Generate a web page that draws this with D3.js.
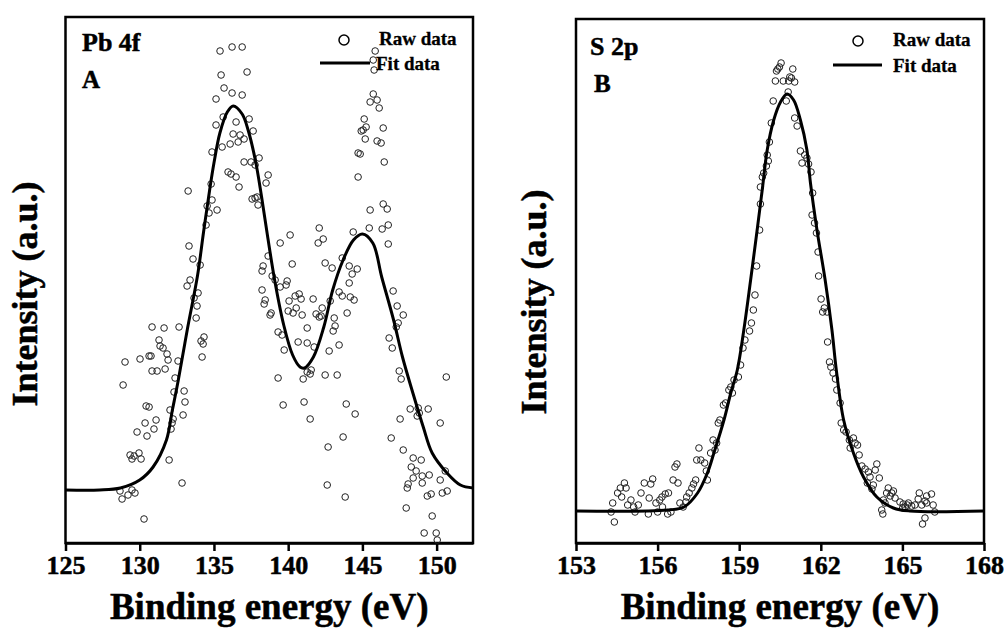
<!DOCTYPE html>
<meta charset="utf-8">

<!-- Load d3.js -->
<script src="https://d3js.org/d3.v7.min.js"></script>

<style>
  body { margin: 0; background: #fff; }
  svg text { font-family: "Liberation Serif", "Times New Roman", "DejaVu Serif", serif; font-weight: bold;
             stroke: #000; stroke-width: 0.5px; }
</style>

<!-- Create a div where the graph will take place -->
<div id="body"></div>

<script>
// ---- Panel A : Pb 4f ----
var pbTicks = [125, 130, 135, 140, 145, 150];

// raw data, binding energy (eV)
var pbRawEnergy = [
  135.41,136.22,136.90,135.48,137.23,135.68,136.22,136.90,135.14,145.86,
  145.73,145.79,145.73,145.52,145.99,146.13,145.12,145.05,144.92,145.25,
  146.40,145.19,145.99,146.26,144.85,144.71,146.47,144.71,135.62,135.14,
  136.49,137.37,137.64,136.29,136.76,136.09,136.63,137.03,135.55,134.87,
  137.03,137.50,138.04,137.77,135.95,136.15,136.49,138.65,138.51,136.69,
  133.26,134.81,137.77,134.54,134.87,134.67,135.21,134.47,137.57,137.91,
  137.97,133.32,133.59,134.07,133.39,133.19,133.93,133.66,133.86,133.80,
  130.83,131.64,132.65,131.30,131.37,131.57,131.84,134.13,134.33,134.27,
  134.20,129.01,130.02,130.63,130.76,131.91,132.58,130.83,131.17,131.71,
  142.09,142.36,142.02,140.13,139.46,145.52,146.40,146.67,145.46,146.33,
  146.74,144.38,146.74,138.65,140.27,138.31,138.24,138.92,139.12,139.46,
  139.86,139.93,138.24,138.45,138.38,138.85,138.78,140.47,140.74,140.87,
  140.06,141.68,140.00,140.33,140.54,140.94,142.49,142.96,143.64,144.11,
  144.65,144.31,144.11,143.43,143.64,142.83,144.18,144.44,142.29,141.88,
  142.09,142.22,143.10,143.16,143.03,143.97,141.28,139.32,139.59,140.67,
  141.28,141.75,139.73,143.43,142.76,147.07,147.34,147.75,147.41,147.28,
  146.80,147.01,147.48,150.65,139.32,142.49,143.30,141.48,141.01,141.55,
  141.28,128.88,132.38,132.31,132.99,133.05,130.43,130.63,132.04,132.25,
  132.18,132.11,132.92,131.10,130.96,130.36,129.82,130.49,129.35,129.62,
  129.95,129.48,130.09,131.98,132.85,128.67,128.81,129.21,129.68,129.48,
  130.29,139.66,141.07,141.48,143.91,144.51,143.70,142.69,142.63,143.84,
  147.61,148.22,148.76,149.43,148.83,148.69,147.54,150.24,146.94,147.75,
  148.42,148.96,148.29,148.62,148.42,148.08,148.02,149.03,149.50,149.03,
  150.24,150.58,149.37,149.63,150.38,150.71,147.95,149.70,149.16,149.97,
  150.04
];
// raw data, intensity (counts)
var pbRawCounts = [
  4920,4960,4960,4680,4710,4550,4500,4480,4440,4920,
  4830,4730,4490,4410,4430,4350,4240,4130,4120,4160,
  4150,4040,4020,4000,3890,3900,3810,3660,4260,4180,
  4210,4240,4120,4090,4080,3990,4010,4040,3960,3910,
  3810,3810,3850,3780,3710,3690,3660,3680,3600,3560,
  3520,3590,3450,3370,3430,3300,3330,3180,3440,3460,
  3380,2970,2840,2780,2630,2570,2500,2450,2370,2250,
  2160,2150,2160,2030,1970,1950,1890,2020,2060,1990,
  1860,1810,1840,1870,1870,1830,1820,1720,1720,1740,
  3150,3040,3000,3080,3000,3330,3390,3340,3150,3140,
  3180,3110,2990,2870,2790,2770,2720,2670,2630,2560,
  2580,2620,2530,2430,2390,2300,2280,2470,2490,2440,
  2420,2440,2320,2300,2350,2280,2800,2750,2850,2770,
  2740,2690,2600,2510,2470,2420,2460,2430,2350,2290,
  2260,2270,2250,2170,2120,2300,2150,2110,2080,2010,
  2000,1960,1930,1980,1920,2520,2370,2280,2200,2160,
  2050,1950,1720,1660,1650,1680,1680,1690,1640,1730,
  1710,1580,1650,1510,1520,1410,1370,1360,1330,1240,
  1200,1140,1280,1230,1140,1200,1110,1070,880,870,
  900,840,840,830,600,520,440,480,500,530,
  240,1380,1410,1240,1390,1290,1060,960,580,460,
  1640,1340,1350,1340,1300,1270,1240,1200,1050,930,
  850,830,760,720,650,590,550,670,680,600,
  630,720,470,490,500,520,350,270,100,100,
  30
];

// fitted envelope
var pbFitEnergy = [125.0,127.3,128.7,130.0,130.9,131.8,132.2,132.6,133.2,133.9,
  134.3,134.7,135.0,135.4,135.9,136.3,136.9,137.3,137.8,138.2,138.6,139.1,139.7,
  140.3,140.8,141.1,141.7,142.4,143.0,143.7,144.4,145.0,145.7,146.3,147.1,147.7,
  148.4,149.1,149.7,150.7,151.6,152.45];
var pbFitCounts = [530,530,550,630,760,1030,1330,1630,2130,2680,
  3110,3520,3800,4100,4310,4370,4290,4130,3820,3470,3080,2620,2180,
  1880,1760,1750,1860,2160,2530,2830,3030,3090,3000,2660,2230,1860,
  1500,1160,900,700,580,550];

// ---- Panel B : S 2p ----
var sTicks = [153, 156, 159, 162, 165, 168];

var sRawEnergy = [
  160.54,160.48,160.42,160.37,160.97,160.33,160.62,160.82,160.92,161.04,
  160.86,160.80,160.73,160.25,161.04,161.13,160.18,160.11,160.03,160.07,
  160.00,159.90,159.85,159.78,161.25,161.41,161.49,161.31,161.55,161.64,
  161.70,159.78,159.75,159.64,159.58,159.52,159.45,159.38,159.21,159.14,
  159.05,158.97,161.68,161.77,161.84,161.90,161.92,162.01,162.13,162.07,
  162.23,162.25,162.32,162.37,162.45,162.54,158.81,158.69,158.62,158.75,
  158.50,158.42,158.29,158.23,158.04,158.17,158.11,157.95,157.52,157.44,
  157.59,157.73,157.79,156.71,156.64,157.40,157.32,157.26,157.16,157.07,
  157.83,156.57,156.75,156.82,156.94,157.04,156.40,156.28,156.16,156.08,
  155.94,155.51,155.82,155.75,155.39,155.69,154.78,154.63,154.84,154.53,
  154.68,154.35,154.29,154.41,155.02,154.90,155.17,155.12,155.29,155.66,
  156.00,156.18,156.37,156.49,162.59,162.71,162.75,162.84,162.93,163.05,
  163.20,163.26,163.35,163.08,163.41,163.51,163.63,163.75,164.06,164.00,
  164.15,163.81,163.71,163.93,163.88,164.48,164.67,164.42,164.61,164.55,
  164.73,164.30,164.36,164.24,164.28,164.91,165.03,165.22,165.34,165.46,
  165.62,165.58,165.89,166.07,165.83,166.13,166.19,165.71,165.89,165.83,
  165.74,165.10,165.18,165.01
];
var sRawCounts = [
  4800,4760,4740,4720,4740,4620,4620,4620,4650,4610,
  4660,4510,4420,4420,4250,4170,4200,4010,3880,3820,
  3770,3700,3660,3560,3920,3880,3850,3800,3790,3710,
  3500,3390,3130,2770,2480,2330,2200,2120,2030,1950,
  1780,1660,3280,3200,3100,2910,2670,2440,2350,2310,
  2310,2010,1810,1760,1700,1640,1630,1560,1530,1500,
  1400,1380,1230,1200,1030,1000,930,900,950,830,
  830,800,720,790,760,630,590,550,500,460,
  630,630,600,400,360,410,500,490,460,430,
  400,600,640,590,500,450,600,550,550,500,
  460,400,310,210,430,380,310,360,380,290,
  310,360,290,310,1530,1400,1200,1130,1110,1030,
  1050,1000,980,950,880,770,740,710,790,730,
  650,660,600,580,540,550,520,500,500,470,
  450,430,400,330,290,410,390,400,370,380,
  500,440,470,490,420,380,310,380,400,250,
  190,360,380,350
];

var sFitEnergy = [153.0,156.37,156.97,157.47,157.83,158.07,158.44,158.69,158.93,
  159.17,159.42,159.66,159.86,160.03,160.27,160.52,160.76,161.00,161.25,161.49,
  161.62,161.86,162.16,162.41,162.57,162.84,163.20,163.57,164.06,164.67,165.28,168.0];
var sFitCounts = [320,330,360,500,700,900,1230,1500,1730,
  2130,2630,3130,3560,3930,4230,4410,4490,4430,4230,3930,
  3600,3130,2630,2130,1730,1230,900,660,460,350,320,320];

var fontFam = "Liberation Serif, Times New Roman, DejaVu Serif, serif";

// Append with SVG
var svg = d3.select("#body").append("svg")
    .attr("width", 1006)
    .attr("height", 629)
    .style("background", "#fff");

function drawPanel(p) {
  var x = d3.scaleLinear().domain(p.xDomain).range([p.left, p.right]);
  var y = d3.scaleLinear().domain(p.yDomain).range([p.bottom, p.top]);

  // frame
  svg.append("rect")
    .attr("x", p.left).attr("y", p.top)
    .attr("width", p.right - p.left).attr("height", p.bottom - p.top)
    .attr("fill", "none").attr("stroke", "#000").attr("stroke-width", 2.5);

  // X axis
  var ax = svg.append("g")
    .attr("transform", "translate(0," + p.bottom + ")")
    .call(d3.axisBottom(x).tickValues(p.ticks).tickSize(8).tickSizeOuter(0).tickPadding(5)
      .tickFormat(d3.format("d")));
  ax.attr("font-family", fontFam).attr("font-size", 26).attr("font-weight", "bold");
  ax.select(".domain").attr("stroke-width", 2.5);
  ax.selectAll(".tick line").attr("stroke-width", 2.5);
  ax.selectAll("text").attr("fill", "#000");

  // raw points
  svg.append("g").selectAll("circle")
    .data(d3.range(p.rawE.length))
    .enter().append("circle")
      .attr("cx", function(i) { return x(p.rawE[i]); })
      .attr("cy", function(i) { return y(p.rawI[i]); })
      .attr("r", 3.3)
      .attr("fill", "none")
      .attr("stroke", "#222")
      .attr("stroke-width", 1);

  // fit line
  var line = d3.line()
    .x(function(i) { return x(p.fitE[i]); })
    .y(function(i) { return y(p.fitI[i]); })
    .curve(d3.curveCatmullRom.alpha(0.5));
  svg.append("path")
    .datum(d3.range(p.fitE.length))
    .attr("d", line)
    .attr("fill", "none")
    .attr("stroke", "#000")
    .attr("stroke-width", 3);

  // labels
  svg.append("text").attr("x", p.nameX).attr("y", p.nameY)
    .attr("font-size", 26).text(p.name);
  svg.append("text").attr("x", p.letterX).attr("y", p.letterY)
    .attr("font-size", 25).text(p.letter);

  // legend
  svg.append("circle").attr("cx", p.legCx).attr("cy", p.legCy).attr("r", 5)
    .attr("fill", "none").attr("stroke", "#000").attr("stroke-width", 1.5);
  svg.append("text").attr("x", p.legTx).attr("y", p.legCy + 5)
    .attr("font-size", 19).style("stroke-width", "0.3px").text("Raw data");
  svg.append("line").attr("x1", p.legL1).attr("x2", p.legL2)
    .attr("y1", p.legLy).attr("y2", p.legLy)
    .attr("stroke", "#000").attr("stroke-width", 3);
  svg.append("text").attr("x", p.legTx2).attr("y", p.legLy + 7)
    .attr("font-size", 19).style("stroke-width", "0.3px").text("Fit data");

  // axis titles
  svg.append("text")
    .attr("x", (p.left + p.right) / 2).attr("y", 619)
    .attr("text-anchor", "middle").attr("font-size", 37)
    .text("Binding energy (eV)");
  svg.append("text")
    .attr("transform", "translate(" + p.yTitleX + "," + p.yTitleY + ")rotate(-90)")
    .attr("text-anchor", "middle").attr("font-size", 36)
    .text("Intensity (a.u.)");
}

drawPanel({
  left: 65.5, right: 473, top: 17, bottom: 543,
  xDomain: [125, 152.45], yDomain: [0, 5260], ticks: pbTicks,
  rawE: pbRawEnergy, rawI: pbRawCounts, fitE: pbFitEnergy, fitI: pbFitCounts,
  name: "Pb 4f", nameX: 82, nameY: 51, letter: "A", letterX: 82, letterY: 88,
  legCx: 344, legCy: 40, legTx: 379, legL1: 320, legL2: 370, legLy: 63, legTx2: 376,
  yTitleX: 37, yTitleY: 294
});

drawPanel({
  left: 576, right: 984, top: 19, bottom: 543,
  xDomain: [153, 168], yDomain: [0, 5240], ticks: sTicks,
  rawE: sRawEnergy, rawI: sRawCounts, fitE: sFitEnergy, fitI: sFitCounts,
  name: "S 2p", nameX: 590, nameY: 55, letter: "B", letterX: 594, letterY: 92,
  legCx: 858, legCy: 41, legTx: 893, legL1: 833, legL2: 882, legLy: 65, legTx2: 893,
  yTitleX: 546, yTitleY: 302
});
</script>
